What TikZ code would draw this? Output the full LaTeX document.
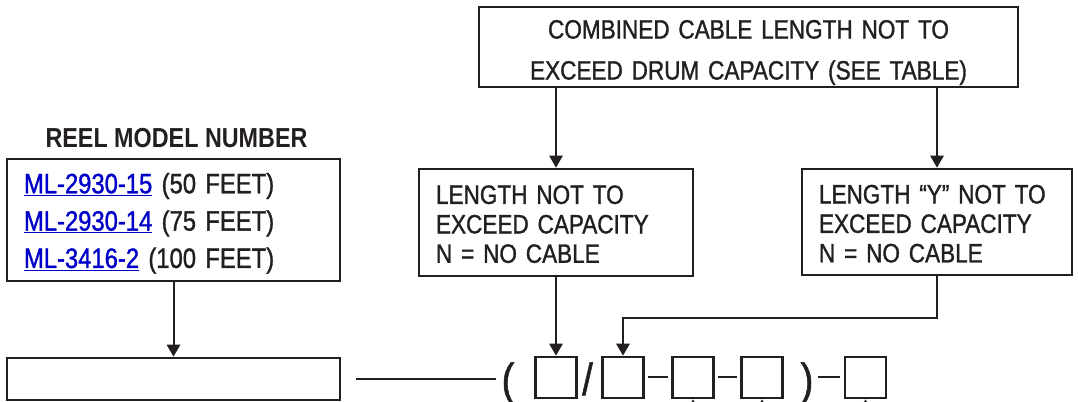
\documentclass[tikz,border=0pt]{standalone}
\usepackage{fontspec}
\setmainfont{Liberation Sans}[FakeStretch=0.85, UprightFeatures={FakeBold=1.2}]
\usepackage{tikz}
\usetikzlibrary{arrows.meta, positioning}
\definecolor{darkink}{HTML}{231F20}
\definecolor{reelblue}{HTML}{0000C8}
\newcommand{\reellink}[1]{\textcolor{reelblue}{\underline{#1}}}

\begin{document}
\begin{tikzpicture}[x=0.75pt, y=-0.75pt,
	labelbox/.style={draw=darkink, line width=2pt, inner xsep=12.75pt, inner ysep=0pt,
		align=left, text=darkink},
	digitbox/.style={draw=darkink, line width=2pt, minimum width=30.75pt,
		minimum height=30.75pt, inner sep=0pt},
	feedarrow/.style={draw=darkink, line width=1.5pt, -{Triangle[length=9pt, width=10pt]}},
	joinline/.style={draw=darkink, line width=1.5pt},
	bigglyph/.style={inner sep=0pt, anchor=base, text=darkink,
		font=\fontsize{33.75}{40}\selectfont}]
				\useasboundingbox (0,0) rectangle (1078,402);
				\clip (0,0) rectangle (1078,402);

				\node[labelbox, align=center, text width=378.75pt, minimum height=60pt,
				text height=22.2pt, font=\fontsize{19.9}{30.75}\selectfont] (combined) at (748.5,47) {
					COMBINED CABLE LENGTH NOT TO\\
					EXCEED DRUM CAPACITY (SEE TABLE)
				};
				\node[labelbox, text width=180pt, minimum height=80.25pt, text height=16.5pt,
				font=\fontsize{19.9}{22.1}\selectfont] (lenx) at (556,222.5) {
					LENGTH NOT TO\\
					EXCEED CAPACITY\\
					N = NO CABLE
				};
				\node[labelbox, text width=177pt, minimum height=79.5pt, text height=16.5pt,
				font=\fontsize{19.9}{22.1}\selectfont] (leny) at (937,222) {
					LENGTH “Y” NOT TO\\
					EXCEED CAPACITY\\
					N = NO CABLE
				};

				\node[anchor=base, text=darkink, font=\bfseries\fontsize{20.6}{24}\selectfont]
				(reeltitle) at (176.5,148) {REEL MODEL NUMBER};
				\node[labelbox, text width=224.25pt, minimum height=91.5pt, text height=20.25pt,
				font=\fontsize{21}{28}\selectfont] (reel) at (173.5,220) {
					\reellink{ML-2930-15} (50 FEET)\\
					\reellink{ML-2930-14} (75 FEET)\\
					\reellink{ML-3416-2} (100 FEET)
				};
				\node[draw=darkink, line width=2pt, minimum width=249.75pt, minimum height=31.5pt]
				(modelno) at (173.5,379) {};

				\node[digitbox] (dA) at (556,377.5) {};
				\node[digitbox] (dB) at (623,377.5) {};
				\node[digitbox] (dC) at (693,377.5) {};
				\node[digitbox] (dD) at (762,377.5) {};
				\node[digitbox] (dE) at (865.5,377.5) {};
				\node[bigglyph] (lpar) at (508,395) {(};
				\node[bigglyph] (slash) at (587.5,395) {/};
				\node[bigglyph] (rpar) at (807,395) {)};

				\draw[feedarrow] (combined.south -| lenx.north) -- (lenx.north);
				\draw[feedarrow] (combined.south -| leny.north) -- (leny.north);
				\draw[feedarrow] (reel.south) -- (modelno.north);
				\draw[feedarrow] (lenx.south) -- (dA.north);
				\draw[feedarrow] (leny.south) -- ++(0,42) -| (dB.north);
				\draw[feedarrow] ([yshift=-20pt]dC.south) -- (dC.south);
				\draw[feedarrow] ([yshift=-20pt]dD.south) -- (dD.south);
				\draw[feedarrow] ([yshift=-20pt]dE.south) -- (dE.south);

				\draw[joinline] ([xshift=11.25pt]modelno.east) -- ([xshift=-4pt]lpar.west |- modelno.east);
				\draw[joinline, shorten <=2.25pt, shorten >=2.25pt] (dB.east) -- (dC.west);
				\draw[joinline, shorten <=2.25pt, shorten >=2.25pt] (dC.east) -- (dD.west);
				\draw[joinline, shorten >=3pt] ([xshift=3pt]rpar.east |- dE.west) -- (dE.west);
			\end{tikzpicture}
\end{document}
